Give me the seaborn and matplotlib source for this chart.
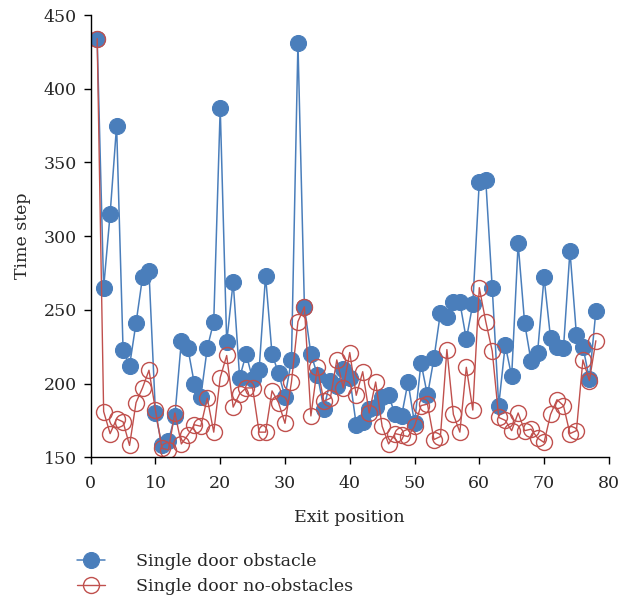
import numpy as np
import pandas as pd
import seaborn as sns
import matplotlib
matplotlib.use("Agg")
import matplotlib.pyplot as plt

# exit position 1..78
exit_pos = list(range(1, 79))
# time steps
obstacle = [434, 265, 315, 375, 223, 212, 241, 272, 276, 180,
            158, 161, 178, 229, 224, 200, 191, 224, 242, 387,
            228, 269, 204, 220, 203, 209, 273, 220, 207, 191,
            216, 431, 252, 220, 206, 183, 202, 198, 210, 204,
            172, 174, 183, 184, 191, 192, 179, 178, 201, 173,
            214, 192, 217, 248, 245, 255, 255, 230, 254, 337,
            338, 265, 185, 226, 205, 295, 241, 215, 221, 272,
            231, 225, 224, 290, 233, 225, 203, 249]
no_obstacle = [434, 181, 166, 176, 174, 158, 187, 197, 209, 182,
               156, 155, 180, 159, 165, 172, 171, 190, 167, 204,
               219, 184, 193, 197, 197, 167, 167, 195, 187, 173,
               201, 242, 252, 178, 211, 188, 190, 216, 197, 221,
               192, 208, 180, 201, 171, 159, 166, 165, 164, 171,
               185, 186, 162, 164, 223, 179, 167, 211, 182, 265,
               242, 222, 177, 175, 168, 180, 168, 169, 163, 160,
               179, 189, 185, 166, 168, 216, 202, 229]
labels = ["Single door obstacle", "Single door no-obstacles"]

df = pd.DataFrame({"x": exit_pos, "obs": obstacle, "noobs": no_obstacle})

sns.set_style("ticks")
plt.rcParams["font.family"] = ["DejaVu Serif"]

blue = "#4a7ebb"
red = "#c0504d"
fs = 12.5

fig = plt.figure(figsize=(6.22, 6.0), dpi=100)
ax = fig.add_axes([0.1458, 0.238, 0.833, 0.737])

sns.lineplot(data=df, x="x", y="obs", ax=ax, color=blue, lw=1.1,
             marker="o", markersize=11.5, markerfacecolor=blue,
             markeredgecolor=blue, markeredgewidth=0.8, label=labels[0])
sns.lineplot(data=df, x="x", y="noobs", ax=ax, color=red, lw=1.0,
             marker="o", markersize=11.5, markerfacecolor="none",
             markeredgecolor=red, markeredgewidth=1.0, label=labels[1])

ax.set_xlim(0, 80)
ax.set_ylim(150, 450)
ax.set_xticks(range(0, 81, 10))
ax.set_yticks(range(150, 451, 50))
ax.tick_params(labelsize=fs, length=5, width=1, color="black")
ax.tick_params(axis="x", pad=8)
ax.tick_params(axis="y", pad=5)
ax.set_xlabel("Exit position", fontsize=fs, labelpad=12)
ax.set_ylabel("Time step", fontsize=fs, labelpad=9)
for s in ["top", "right"]:
    ax.spines[s].set_visible(False)
for s in ["left", "bottom"]:
    ax.spines[s].set_color("black")
    ax.spines[s].set_linewidth(1)

ax.legend(loc="upper left", bbox_to_anchor=(0.124, 0.078),
          bbox_transform=fig.transFigure, frameon=False, fontsize=fs,
          borderpad=0, borderaxespad=0, handlelength=1.6,
          handletextpad=1.8, labelspacing=0.45)

fig.savefig("out.png", dpi=100)
